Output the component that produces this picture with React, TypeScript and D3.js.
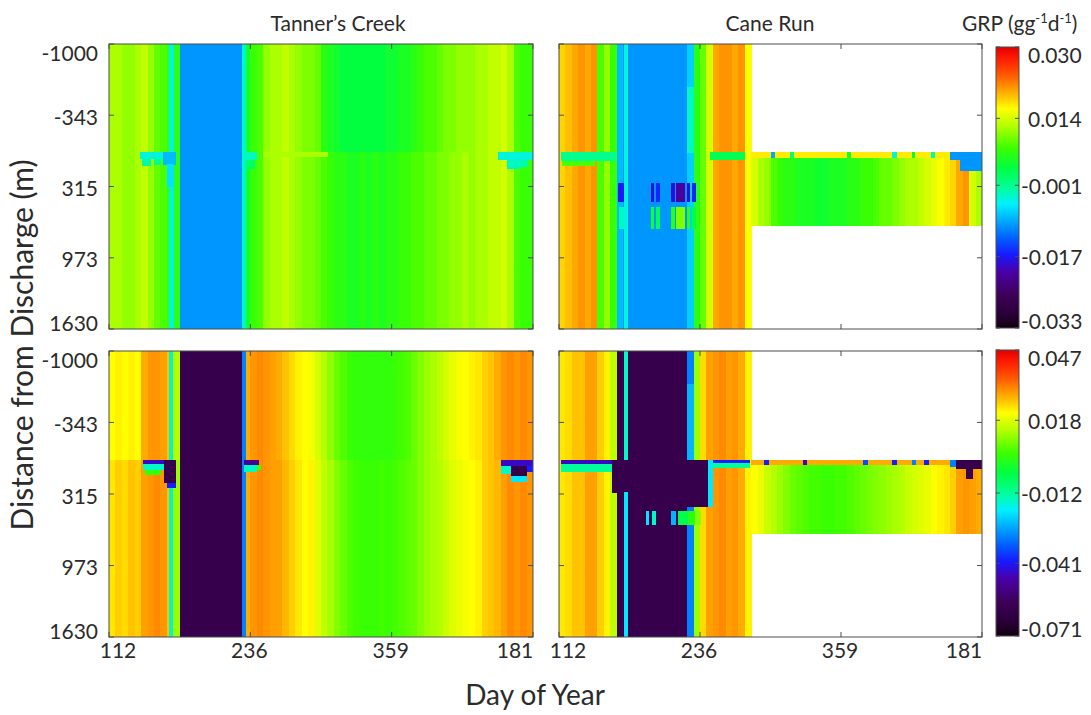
import * as d3 from 'd3';

// ---------- axes ----------
const DIST_DOMAIN = [-1000, 1630];
const DIST_TICKS = [-1000, -343, 315, 973, 1630];
const N_STEPS = 66;
const DAY_TICK_STEPS = [0, 22, 44, 66];
const DAY_TICK_LABELS = ['112', '236', '359', '181'];
const DISCHARGE_M = 0;
const CANE_BAND_M = [0, 680];
const CANE_BAND_START = 30;

// ---------- colour map (0 = bottom of bar, 1 = top) ----------
const CMAP_POS = [0, 0.05, 0.12, 0.2, 0.26, 0.32, 0.38, 0.44, 0.5, 0.57, 0.64, 0.72, 0.78, 0.84, 0.9, 0.96, 1];
const CMAP_COL = ['#120010', '#2a0038', '#3e005a', '#4a00a8', '#1818ff', '#0060ff', '#00a8ff', '#00f0ff', '#00ff98',
  '#00ff40', '#3cff00', '#b4ff00', '#ffff00', '#ffaa00', '#ff5a00', '#ff1a00', '#e00000'];

const GRP_TOP = [-0.033, 0.030];
const GRP_TOP_TICKS = [0.030, 0.014, -0.001, -0.017, -0.033];
const GRP_BOT = [-0.071, 0.047];
const GRP_BOT_TICKS = [0.047, 0.018, -0.012, -0.041, -0.071];

// ---------- Tanner's Creek, top row ----------
const TC_TOP_UP = [
  0.012, 0.012, 0.011, 0.011, 0.012, 0.013, 0.011, 0.009, 0.008, 0.007,
  0.006, -0.010, -0.010, -0.010, -0.010, -0.010, -0.010, -0.010, -0.010, -0.010,
  -0.010, 0.004, 0.007, 0.008, 0.011, 0.012, 0.012, 0.013, 0.012, 0.011,
  0.010, 0.010, 0.009, 0.006, 0.005, 0.004, 0.003, 0.003, 0.003, 0.003,
  0.003, 0.003, 0.003, 0.004, 0.004, 0.005, 0.005, 0.006, 0.007, 0.008,
  0.008, 0.009, 0.010, 0.010, 0.011, 0.011, 0.011, 0.012, 0.012, 0.013,
  0.013, 0.014, 0.012, 0.008, 0.007, 0.007,
];
const TC_TOP_DOWN = [
  0.012, 0.012, 0.011, 0.011, 0.012, 0.013, 0.011, 0.009, 0.008, 0.007,
  0.006, -0.010, -0.010, -0.010, -0.010, -0.010, -0.010, -0.010, -0.010, -0.010,
  -0.010, 0.004, 0.007, 0.008, 0.011, 0.012, 0.012, 0.013, 0.012, 0.011,
  0.010, 0.010, 0.009, 0.008, 0.007, 0.006, 0.006, 0.005, 0.005, 0.006,
  0.005, 0.006, 0.005, 0.006, 0.006, 0.007, 0.007, 0.008, 0.008, 0.009,
  0.009, 0.010, 0.010, 0.011, 0.011, 0.012, 0.011, 0.012, 0.012, 0.013,
  0.013, 0.014, 0.012, 0.008, 0.007, 0.007,
];
// [step0, step1, dist0, dist1, GRP]
const TC_TOP_PATCHES = [
  [9.4, 10.0, -1000, 1630, -0.004],
  [20.7, 21.2, -1000, 1630, -0.003],
  [4.8, 8.4, 0, 60, -0.004],
  [5.2, 6.4, 60, 120, -0.002],
  [7.0, 8.0, 60, 110, -0.001],
  [8.4, 10.4, 0, 110, -0.008],
  [9.0, 10.0, 110, 320, -0.006],
  [21.0, 23.0, 0, 70, -0.003],
  [21.4, 22.6, 70, 150, 0.001],
  [24, 34, 0, 40, 0.012],
  [60.5, 66, 0, 70, -0.004],
  [62.0, 64.0, 70, 150, -0.003],
  [64.2, 65.2, 70, 130, -0.002],
];

// ---------- Cane Run, top row ----------
const CR_TOP_UP = [
  0.018, 0.019, 0.020, 0.021, 0.020, 0.021, 0.008, 0.011, 0.007, -0.008,
  -0.010, -0.010, -0.010, -0.010, -0.010, -0.010, -0.010, -0.010, -0.010, -0.010,
  -0.007, 0.006, 0.009, 0.014, 0.020, 0.021, 0.021, 0.020, 0.021, 0.016,
];
const CR_TOP_DOWN = [
  0.018, 0.019, 0.020, 0.021, 0.020, 0.021, 0.008, 0.011, 0.007, -0.008,
  -0.010, -0.010, -0.010, -0.010, -0.010, -0.010, -0.010, -0.010, -0.010, -0.010,
  -0.007, 0.006, 0.009, 0.014, 0.020, 0.021, 0.021, 0.020, 0.021, 0.016,
];
const CR_TOP_BAND = [
  0.014, 0.012, 0.011, 0.008, 0.007, 0.006, 0.006, 0.005, 0.005, 0.005,
  0.004, 0.004, 0.005, 0.005, 0.005, 0.006, 0.006, 0.007, 0.007, 0.008,
  0.009, 0.009, 0.010, 0.011, 0.012, 0.012, 0.013, 0.014, 0.015, 0.016,
  0.017, 0.018, 0.020, 0.021, 0.014, 0.012,
];
const CR_TOP_PATCHES = [
  [10.1, 10.6, -1000, 1630, -0.004],
  [20.0, 21.0, -600, 0, -0.003],
  [0.3, 8.8, 0, 80, -0.001],
  [0.5, 5.5, 80, 120, 0.008],
  [9.2, 10.0, 280, 450, -0.017],
  [14.3, 14.8, 280, 450, -0.018],
  [15.2, 15.6, 280, 450, -0.016],
  [17.4, 18.0, 280, 450, -0.018],
  [18.3, 19.6, 280, 450, -0.021],
  [19.9, 20.4, 280, 450, -0.018],
  [20.7, 21.3, 280, 450, -0.016],
  [9.3, 10.0, 500, 700, -0.003],
  [14.3, 14.8, 500, 700, 0.004],
  [15.2, 15.6, 500, 700, 0.002],
  [17.4, 18.0, 500, 700, 0.006],
  [18.3, 19.6, 500, 700, 0.010],
  [19.9, 20.4, 500, 700, 0.006],
  [20.7, 21.3, 500, 700, 0.003],
  [23.5, 29.0, 0, 70, 0.002],
  [30, 61, 0, 45, 0.017],
  [33, 33.6, 0, 45, -0.009],
  [36, 36.5, 0, 45, 0.000],
  [45, 45.5, 0, 45, 0.004],
  [52, 52.6, 0, 45, -0.004],
  [55, 55.5, 0, 45, 0.003],
  [58, 58.5, 0, 45, -0.003],
  [61, 66, 0, 70, -0.010],
  [62.5, 66, 70, 170, -0.010],
];

// ---------- Tanner's Creek, bottom row ----------
const TC_BOT_UP = [
  0.021, 0.022, 0.021, 0.022, 0.021, 0.028, 0.030, 0.030, 0.029, 0.026,
  0.014, -0.060, -0.060, -0.060, -0.060, -0.060, -0.060, -0.060, -0.060, -0.060,
  -0.060, 0.028, 0.030, 0.031, 0.030, 0.029, 0.028, 0.026, 0.024, 0.022,
  0.021, 0.020, 0.017, 0.014, 0.011, 0.008, 0.006, 0.004, 0.003, 0.003,
  0.003, 0.003, 0.003, 0.003, 0.004, 0.005, 0.006, 0.008, 0.010, 0.012,
  0.013, 0.015, 0.017, 0.019, 0.020, 0.021, 0.022, 0.023, 0.025, 0.026,
  0.028, 0.030, 0.031, 0.030, 0.031, 0.030,
];
const TC_BOT_DOWN = [
  0.023, 0.025, 0.024, 0.026, 0.025, 0.029, 0.030, 0.031, 0.030, 0.026,
  0.012, -0.060, -0.060, -0.060, -0.060, -0.060, -0.060, -0.060, -0.060, -0.060,
  -0.060, 0.028, 0.030, 0.031, 0.030, 0.029, 0.029, 0.027, 0.025, 0.023,
  0.021, 0.022, 0.018, 0.015, 0.013, 0.010, 0.008, 0.006, 0.005, 0.004,
  0.004, 0.004, 0.005, 0.004, 0.005, 0.006, 0.007, 0.008, 0.010, 0.012,
  0.013, 0.014, 0.016, 0.018, 0.019, 0.020, 0.021, 0.022, 0.025, 0.026,
  0.027, 0.029, 0.031, 0.030, 0.031, 0.030,
];
const TC_BOT_PATCHES = [
  [9.3, 9.9, -1000, 1630, -0.015],
  [20.7, 21.2, -1000, 1630, -0.030],
  [5.3, 9.2, 0, 35, -0.045],
  [5.3, 8.5, 35, 90, -0.015],
  [5.6, 8.0, 90, 140, 0.003],
  [8.5, 10.4, 0, 210, -0.060],
  [9.0, 10.4, 210, 260, -0.040],
  [21.0, 23.2, 0, 50, -0.050],
  [21.0, 23.0, 50, 110, -0.015],
  [23.0, 23.6, 50, 90, 0.005],
  [61, 66, 0, 60, -0.045],
  [61, 62.5, 60, 130, -0.015],
  [62.5, 65, 60, 150, -0.060],
  [62.5, 65, 150, 200, -0.020],
  [65, 66, 60, 110, -0.040],
];

// ---------- Cane Run, bottom row ----------
const CR_BOT_UP = [
  0.023, 0.024, 0.026, 0.026, 0.029, 0.029, 0.025, 0.022, 0.015, -0.060,
  -0.060, -0.060, -0.060, -0.060, -0.060, -0.060, -0.060, -0.060, -0.060, -0.060,
  -0.030, 0.012, 0.024, 0.029, 0.030, 0.031, 0.029, 0.030, 0.028, 0.022,
];
const CR_BOT_DOWN = [
  0.023, 0.024, 0.026, 0.026, 0.029, 0.029, 0.025, 0.022, 0.015, -0.060,
  -0.060, -0.060, -0.060, -0.060, -0.060, -0.060, -0.060, -0.060, -0.060, -0.060,
  -0.030, 0.012, 0.024, 0.029, 0.030, 0.031, 0.029, 0.030, 0.028, 0.022,
];
const CR_BOT_BAND = [
  0.021, 0.019, 0.016, 0.014, 0.012, 0.010, 0.008, 0.007, 0.006, 0.005,
  0.005, 0.004, 0.004, 0.005, 0.005, 0.006, 0.007, 0.008, 0.009, 0.010,
  0.011, 0.012, 0.013, 0.014, 0.016, 0.017, 0.018, 0.019, 0.021, 0.022,
  0.023, 0.025, 0.029, 0.030, 0.029, 0.028,
];
const CR_BOT_PATCHES = [
  [10.1, 10.6, -1000, 0, -0.015],
  [10.1, 10.6, 300, 1630, -0.020],
  [20.0, 21.0, -700, 0, -0.025],
  [0.3, 8.8, 0, 40, -0.045],
  [0.3, 8.8, 40, 110, -0.012],
  [8.2, 9.0, 0, 300, -0.060],
  [20.0, 23.3, 0, 430, -0.060],
  [23.3, 24.0, 0, 430, -0.020],
  [24, 29.7, 0, 30, -0.040],
  [24, 29.7, 30, 70, -0.012],
  [13.5, 14.0, 470, 600, -0.020],
  [14.5, 15.0, 470, 600, -0.015],
  [17.5, 18.2, 470, 600, -0.025],
  [18.6, 20.2, 470, 600, -0.005],
  [20.2, 21.2, 470, 600, 0.002],
  [21.2, 22.0, 470, 600, 0.010],
  [30, 61, 0, 45, 0.028],
  [32, 32.6, 0, 45, -0.040],
  [38, 38.6, 0, 45, -0.045],
  [47.5, 48.1, 0, 45, -0.035],
  [52, 52.6, 0, 45, -0.040],
  [55, 55.6, 0, 45, -0.030],
  [57, 57.6, 0, 45, -0.040],
  [61, 62, 0, 60, -0.030],
  [62, 66, 0, 80, -0.060],
  [63.5, 64.5, 80, 170, -0.060],
];

// ---------- layout ----------
const W = 1091;
const H = 715;
const COL_X = [[109, 533], [559, 982]];
const ROW_Y = [[44, 329], [351, 637]];
const CBAR_X = [996, 1019];
const CBAR_Y = [[47, 328], [350, 636]];
const FONT = 'Lato, "Open Sans", sans-serif';
const INK = '#2b2b2b';
const FRAME = '#4d4d4d';

const PANELS = [
  { id: 'tct', row: 0, col: 0, up: TC_TOP_UP, down: TC_TOP_DOWN, band: null, patches: TC_TOP_PATCHES, grp: GRP_TOP },
  { id: 'crt', row: 0, col: 1, up: CR_TOP_UP, down: CR_TOP_DOWN, band: CR_TOP_BAND, patches: CR_TOP_PATCHES, grp: GRP_TOP },
  { id: 'tcb', row: 1, col: 0, up: TC_BOT_UP, down: TC_BOT_DOWN, band: null, patches: TC_BOT_PATCHES, grp: GRP_BOT },
  { id: 'crb', row: 1, col: 1, up: CR_BOT_UP, down: CR_BOT_DOWN, band: CR_BOT_BAND, patches: CR_BOT_PATCHES, grp: GRP_BOT },
];

const cmap = d3.scaleLinear<string>().domain(CMAP_POS).range(CMAP_COL).interpolate(d3.interpolateRgb).clamp(true);
const grpColor = (v: number, dom: number[]) => cmap((v - dom[0]) / (dom[1] - dom[0]));

function buildCells(p: any) {
  const cells: any[] = [];
  for (let c = 0; c < N_STEPS; c++) {
    if (c < p.up.length) cells.push({ c0: c, c1: c + 1, z0: DIST_DOMAIN[0], z1: DISCHARGE_M, v: p.up[c] });
    if (c < p.down.length) cells.push({ c0: c, c1: c + 1, z0: DISCHARGE_M, z1: DIST_DOMAIN[1], v: p.down[c] });
    else if (p.band) cells.push({ c0: c, c1: c + 1, z0: CANE_BAND_M[0], z1: CANE_BAND_M[1], v: p.band[c - CANE_BAND_START] });
  }
  p.patches.forEach(([c0, c1, z0, z1, v]: number[]) => cells.push({ c0, c1, z0, z1, v }));
  return cells;
}

function Panel({ p }: { p: any }) {
  const [x0, x1] = COL_X[p.col];
  const [y0, y1] = ROW_Y[p.row];
  const xs = d3.scaleLinear().domain([0, N_STEPS]).range([x0, x1]);
  const ys = d3.scaleLinear().domain(DIST_DOMAIN).range([y0, y1]);
  const cells = buildCells(p);
  const clipId = `clip-${p.id}`;
  const tl = 5;
  return (
    <g>
      <clipPath id={clipId}>
        <rect x={x0} y={y0} width={x1 - x0} height={y1 - y0} />
      </clipPath>
      <g clipPath={`url(#${clipId})`} shapeRendering="crispEdges">
        {cells.map((d, i) => (
          <rect key={i} x={xs(d.c0)} y={ys(d.z0)}
            width={xs(d.c1) - xs(d.c0) + 0.6} height={ys(d.z1) - ys(d.z0) + 0.4}
            fill={grpColor(d.v, p.grp)} />
        ))}
      </g>
      <rect x={x0} y={y0} width={x1 - x0} height={y1 - y0} fill="none" stroke={FRAME} strokeWidth={1} />
      {DIST_TICKS.map(t => (
        <g key={`y${t}`} stroke={FRAME} strokeWidth={1}>
          <line x1={x0} x2={x0 + tl} y1={ys(t)} y2={ys(t)} />
          <line x1={x1} x2={x1 - tl} y1={ys(t)} y2={ys(t)} />
        </g>
      ))}
      {DAY_TICK_STEPS.map(t => (
        <g key={`x${t}`} stroke={FRAME} strokeWidth={1}>
          <line x1={xs(t)} x2={xs(t)} y1={y0} y2={y0 + tl} />
          <line x1={xs(t)} x2={xs(t)} y1={y1} y2={y1 - tl} />
        </g>
      ))}
      {p.col === 0 && DIST_TICKS.map((t, i) => {
        const dy = i === 0 ? 8 : i === DIST_TICKS.length - 1 ? -7 : 1;
        return (
          <text key={`yl${t}`} x={x0 - 11} y={ys(t) + dy} textAnchor="end" dominantBaseline="central"
            fontFamily={FONT} fontSize={21} fill={INK}>{t}</text>
        );
      })}
      {p.row === 1 && DAY_TICK_STEPS.map((t, i) => {
        const dx = i === 0 ? 9 : i === DAY_TICK_STEPS.length - 1 ? -18 : -1;
        return (
          <text key={`xl${t}`} x={xs(t) + dx} y={y1 + 21} textAnchor="middle"
            fontFamily={FONT} fontSize={21} fill={INK}>{DAY_TICK_LABELS[i]}</text>
        );
      })}
    </g>
  );
}

function ColorBar({ row, dom, ticks }: { row: number; dom: number[]; ticks: number[] }) {
  const [bx0, bx1] = CBAR_X;
  const [by0, by1] = CBAR_Y[row];
  const cs = d3.scaleLinear().domain(dom).range([by1, by0]);
  const gid = `cbar-${row}`;
  return (
    <g>
      <defs>
        <linearGradient id={gid} x1="0" y1="1" x2="0" y2="0">
          {CMAP_POS.map((t, i) => <stop key={i} offset={t} stopColor={CMAP_COL[i]} />)}
        </linearGradient>
      </defs>
      <rect x={bx0} y={by0} width={bx1 - bx0} height={by1 - by0} fill={`url(#${gid})`} stroke={FRAME} strokeWidth={1} />
      {ticks.map((t, i) => {
        const y = cs(t);
        const dy = i === 0 ? 7 : i === ticks.length - 1 ? -8 : 0;
        const lbl = t.toFixed(3);
        return (
          <g key={t}>
            <line x1={bx0} x2={bx0 + 4} y1={y} y2={y} stroke={FRAME} />
            <line x1={bx1} x2={bx1 - 4} y1={y} y2={y} stroke={FRAME} />
            <text x={lbl.startsWith('-') ? 1021 : 1028} y={y + dy} dominantBaseline="central"
              fontFamily={FONT} fontSize={21} fill={INK}>{lbl}</text>
          </g>
        );
      })}
    </g>
  );
}

export default function App() {
  return (
    <svg width={W} height={H} viewBox={`0 0 ${W} ${H}`}
      style={{ position: 'absolute', left: 0, top: 0, background: '#fff', display: 'block' }}>
      <rect width={W} height={H} fill="#fff" />
      {PANELS.map(p => <Panel key={p.id} p={p} />)}
      <ColorBar row={0} dom={GRP_TOP} ticks={GRP_TOP_TICKS} />
      <ColorBar row={1} dom={GRP_BOT} ticks={GRP_BOT_TICKS} />
      <text x={338} y={31} textAnchor="middle" fontFamily={FONT} fontSize={21} fill={INK}>Tanner’s Creek</text>
      <text x={770} y={31} textAnchor="middle" fontFamily={FONT} fontSize={21} fill={INK}>Cane Run</text>
      <text x={962} y={31} fontFamily={FONT} fontSize={21} fill={INK}>
        GRP (gg<tspan fontSize={13} dy={-8}>-1</tspan><tspan dy={8}>d</tspan><tspan fontSize={13} dy={-8}>-1</tspan><tspan dy={8}>)</tspan>
      </text>
      <text x={535} y={705} textAnchor="middle" fontFamily={FONT} fontSize={28} fill={INK}>Day of Year</text>
      <text transform="translate(33,345) rotate(-90)" textAnchor="middle" fontFamily={FONT} fontSize={30} fill={INK}>
        Distance from Discharge (m)
      </text>
    </svg>
  );
}
